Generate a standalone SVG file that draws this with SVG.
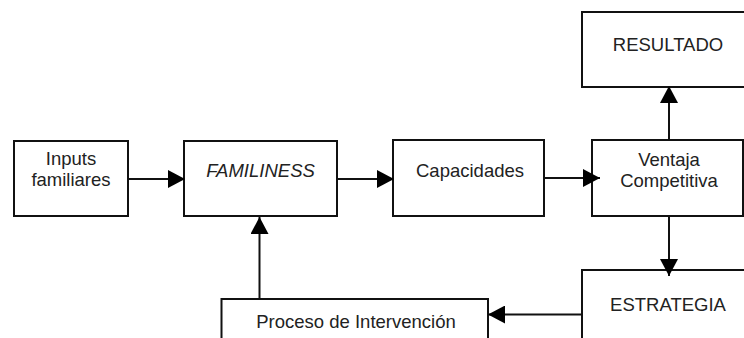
<svg xmlns="http://www.w3.org/2000/svg" width="744" height="338" viewBox="0 0 744 338">
  <style>
    .box { fill: #ffffff; stroke: #111; stroke-width: 2; }
    .lbl { font-family: "Liberation Sans", Arial, sans-serif; font-size: 18.5px; fill: #222; text-anchor: middle; }
    .conn { stroke: #111; stroke-width: 2; fill: none; marker-end: url(#arr); }
  </style>
  <defs>
    <marker id="arr" markerUnits="userSpaceOnUse" markerWidth="18" markerHeight="18" refX="17" refY="9" orient="auto">
      <path d="M0,0 L17,9 L0,18 z" fill="#000"/>
    </marker>
  </defs>
  <rect width="744" height="338" fill="#ffffff"/>

  <g id="inputs">
    <rect class="box" x="14" y="141" width="114" height="75"/>
    <text class="lbl" x="71" y="165">Inputs</text>
    <text class="lbl" x="71" y="186">familiares</text>
  </g>
  <g id="familiness">
    <rect class="box" x="184" y="141" width="153" height="75"/>
    <text class="lbl" x="260.5" y="177" font-style="italic">FAMILINESS</text>
  </g>
  <g id="capacidades">
    <rect class="box" x="393" y="140" width="151" height="76"/>
    <text class="lbl" x="470" y="177">Capacidades</text>
  </g>
  <g id="ventaja">
    <rect class="box" x="592" y="140" width="151" height="76"/>
    <text class="lbl" x="669" y="166">Ventaja</text>
    <text class="lbl" x="669" y="187">Competitiva</text>
  </g>
  <g id="resultado">
    <rect class="box" x="582" y="12" width="180" height="75"/>
    <text class="lbl" x="668" y="50.5">RESULTADO</text>
  </g>
  <g id="estrategia">
    <rect class="box" x="582" y="270" width="180" height="90"/>
    <text class="lbl" x="668" y="311">ESTRATEGIA</text>
  </g>
  <g id="proceso">
    <rect class="box" x="221.5" y="299" width="266.5" height="60"/>
    <text class="lbl" x="356" y="327.5">Proceso de Intervención</text>
  </g>

  <g id="connectors">
    <line class="conn" x1="128" y1="179" x2="185" y2="179"/>
    <line class="conn" x1="337" y1="179" x2="394" y2="179"/>
    <line class="conn" x1="544" y1="178" x2="600" y2="178"/>
    <line class="conn" x1="669" y1="140" x2="669" y2="86"/>
    <line class="conn" x1="669" y1="216" x2="669" y2="276"/>
    <line class="conn" x1="582" y1="314.5" x2="488" y2="314.5"/>
    <line class="conn" x1="259.5" y1="299" x2="259.5" y2="217"/>
  </g>
</svg>
